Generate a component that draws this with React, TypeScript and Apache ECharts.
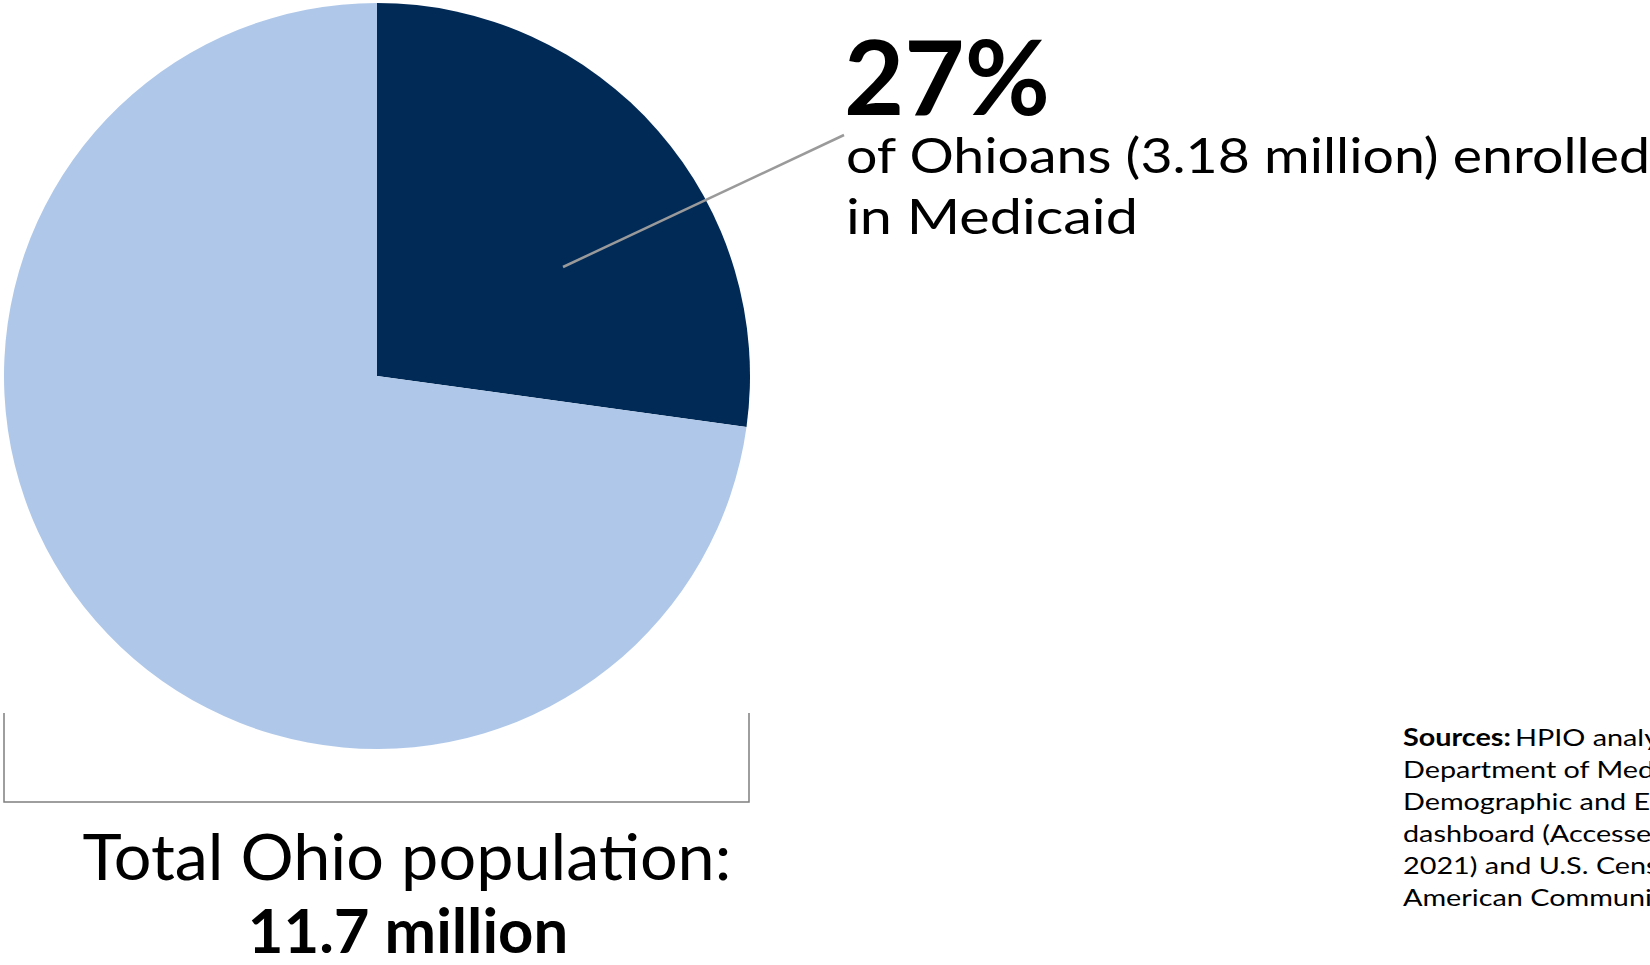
import React, { useEffect, useRef } from "react";
import * as echarts from "echarts";

const categories = ["Enrolled in Medicaid", "Not enrolled in Medicaid"];
const values = [3.18, 8.52];
const sliceColors = ["#012a57", "#afc8e9"];
const headline = "27%";
const calloutLines = ["of Ohioans (3.18 million) enrolled", "in Medicaid"];
const totalLines = ["Total Ohio population:", "11.7 million"];
const sourceLines = [
  "HPIO analysis of Ohio",
  "Department of Medicaid,",
  "Demographic and Expenditure",
  "dashboard (Accessed",
  "2021) and U.S. Census Bureau,",
  "American Community Survey",
];

const FONT = "Lato, 'Noto Sans', sans-serif";

function txt(text: string, x: number, y: number, font: string, align: string, sx: number) {
  return {
    type: "text",
    x,
    y,
    scaleX: sx,
    style: { text, x: 0, y: 0, font, fill: "#000", textAlign: align, textVerticalAlign: "middle" },
  };
}

export default function App() {
  const ref = useRef<HTMLDivElement>(null);
  useEffect(() => {
    if (!ref.current) return;
    const chart = echarts.init(ref.current, null, { renderer: "svg" });
    const graphics: any[] = [
      {
        type: "line",
        shape: { x1: 563, y1: 267, x2: 844, y2: 135 },
        style: { stroke: "#9a9a9a", lineWidth: 2.5 },
        z: 10,
      },
      {
        type: "polyline",
        shape: { points: [[4, 713], [4, 802], [749, 802], [749, 713]] },
        style: { stroke: "#7f7f7f", lineWidth: 1.5, fill: null },
      },
      txt(headline, 844, 74.5, `bold 104px ${FONT}`, "left", 1),
      txt(calloutLines[0], 846, 154.5, `48px ${FONT}`, "left", 1.155),
      txt(calloutLines[1], 846, 215.5, `48px ${FONT}`, "left", 1.2),
      txt(totalLines[0], 407, 855, `64px ${FONT}`, "center", 1.04),
      txt(totalLines[1], 408, 929, `bold 61px ${FONT}`, "center", 1.01),
      {
        type: "text",
        x: 1403,
        y: 736.5,
        scaleX: 1.2,
        style: {
          x: 0,
          y: 0,
          textVerticalAlign: "middle",
          textAlign: "left",
          text: "{b|Sources:} {n|" + sourceLines[0] + "}",
          rich: {
            b: { font: `bold 24px ${FONT}`, fill: "#000" },
            n: { font: `24px ${FONT}`, fill: "#000" },
          },
        },
      },
      ...sourceLines.slice(1).map((t, i) => txt(t, 1403, 736.5 + (i + 1) * 32, `24px ${FONT}`, "left", 1.2)),
    ];
    chart.setOption({
      animation: false,
      backgroundColor: "#ffffff",
      series: [
        {
          type: "pie",
          center: [377, 376],
          radius: 373,
          startAngle: 90,
          clockwise: true,
          label: { show: false },
          labelLine: { show: false },
          emphasis: { disabled: true },
          data: categories.map((c, i) => ({ name: c, value: values[i], itemStyle: { color: sliceColors[i] } })),
        },
      ],
      graphic: graphics,
    });
    return () => chart.dispose();
  }, []);
  return <div ref={ref} style={{ position: "fixed", left: 0, top: 0, width: 1650, height: 965 }} />;
}
